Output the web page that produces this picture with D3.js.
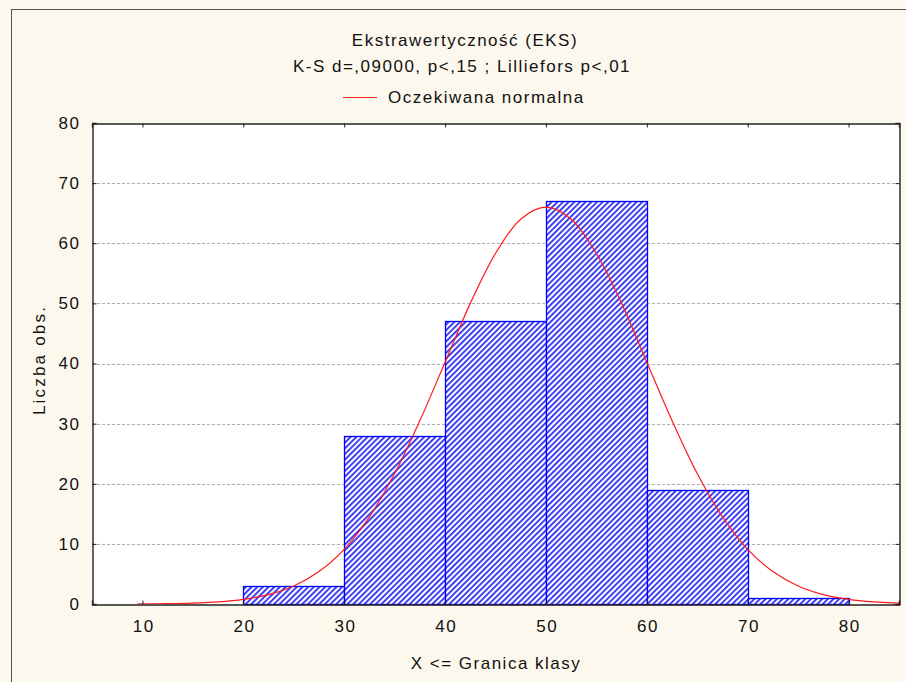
<!DOCTYPE html>
<html>
<head>
<meta charset="utf-8">
<script src="https://cdn.jsdelivr.net/npm/d3@7"></script>
<style>
  html, body { margin: 0; padding: 0; background: #fdf8ee; }
  svg { display: block; }
  text { font-family: "Liberation Sans", Arial, sans-serif; fill: #111; }
</style>
</head>
<body>
<script>
// Histogram class bounds (upper limits) and counts
const binStarts = [20, 30, 40, 50, 60, 70];
const binEnds   = [30, 40, 50, 60, 70, 80];
const counts    = [3, 28, 47, 67, 19, 1];

// Expected normal curve (x, expected count)
const curveX = [9.5, 12.5, 15, 17.5, 20, 22.5, 25, 27.5, 30, 32.5, 35, 37.5, 40, 42.5, 45, 47.5, 50,
                52.5, 55, 57.5, 60, 62.5, 65, 67.5, 70, 72.5, 75, 77.5, 80, 82.5, 85];
const curveY = [0.02, 0.06, 0.15, 0.35, 0.77, 1.56, 3.0, 5.4, 9.1, 14.5, 21.7, 30.5, 40.2, 50.0, 58.3, 64.0, 66.0,
                64.0, 58.3, 50.0, 40.2, 30.5, 21.7, 14.5, 9.1, 5.4, 3.0, 1.56, 0.77, 0.35, 0.15];

const xTicks = [10, 20, 30, 40, 50, 60, 70, 80];
const yTicks = [0, 10, 20, 30, 40, 50, 60, 70, 80];
const gridTicks = [10, 20, 30, 40, 50, 60, 70];

const titleText = "Ekstrawertyczność (EKS)";
const subtitleText = "K-S d=,09000, p<,15 ; Lilliefors p<,01";
const legendText = "Oczekiwana normalna";
const xLabel = "X <= Granica klasy";
const yLabel = "Liczba obs.";

const W = 906, H = 682;
const plot = { left: 92, right: 899, top: 123, bottom: 604 };
const FONT = 17, SPACING = 1.5;

const svg = d3.select("body").append("svg").attr("width", W).attr("height", H);

// page background and outer frame
svg.append("rect").attr("width", W).attr("height", H).attr("fill", "#fdf8ee");
svg.append("rect").attr("x", 11.5).attr("y", 9.5).attr("width", W + 20).attr("height", H + 20)
  .attr("fill", "none").attr("stroke", "#555").attr("stroke-width", 1);

// hatch fill for the bars
const defs = svg.append("defs");
const pat = defs.append("pattern").attr("id", "hatch")
  .attr("patternUnits", "userSpaceOnUse").attr("width", 4).attr("height", 4)
  .attr("patternTransform", "rotate(45)");
pat.append("rect").attr("width", 4).attr("height", 4).attr("fill", "#ffffff");
pat.append("rect").attr("x", 0).attr("width", 1.8).attr("height", 4).attr("fill", "#2d2df5");

defs.append("clipPath").attr("id", "plotClip").append("rect")
  .attr("x", plot.left).attr("y", plot.top)
  .attr("width", plot.right - plot.left).attr("height", plot.bottom - plot.top);

const x = d3.scaleLinear().domain([5, 85]).range([plot.left, plot.right]);
const y = d3.scaleLinear().domain([0, 80]).range([plot.bottom, plot.top]);

// plot area
svg.append("rect").attr("x", plot.left).attr("y", plot.top)
  .attr("width", plot.right - plot.left).attr("height", plot.bottom - plot.top)
  .attr("fill", "#ffffff");

// dotted grid lines
svg.append("g").selectAll("line").data(gridTicks).join("line")
  .attr("x1", plot.left).attr("x2", plot.right)
  .attr("y1", d => Math.round(y(d)) + 0.5).attr("y2", d => Math.round(y(d)) + 0.5)
  .attr("stroke", "#b0b0b0").attr("stroke-width", 1).attr("stroke-dasharray", "3,2");

// histogram bars
const bars = binStarts.map((s, i) => ({ s, e: binEnds[i], v: counts[i] }));
svg.append("g").selectAll("rect").data(bars).join("rect")
  .attr("x", d => Math.round(x(d.s)) + 0.5)
  .attr("y", d => Math.round(y(d.v)) + 0.5)
  .attr("width", d => Math.round(x(d.e)) - Math.round(x(d.s)))
  .attr("height", d => Math.round(y(0)) - Math.round(y(d.v)))
  .attr("fill", "url(#hatch)").attr("stroke", "#0000ff").attr("stroke-width", 1.3);

// expected normal curve
const line = d3.line().x(d => x(d[0])).y(d => y(d[1])).curve(d3.curveCatmullRom);
svg.append("path").datum(curveX.map((v, i) => [v, curveY[i]]))
  .attr("clip-path", "url(#plotClip)")
  .attr("d", line).attr("fill", "none").attr("stroke", "#ff1a1a").attr("stroke-width", 1.2);

// axes
const tickLen = 4;
const axisColor = "#222";
const gLeft = svg.append("g").attr("transform", `translate(${plot.left + 0.5},0)`)
  .call(d3.axisLeft(y).tickValues(yTicks).tickSize(-tickLen).tickPadding(12).tickFormat(d3.format("d")));
const gBottom = svg.append("g").attr("transform", `translate(0,${plot.bottom + 0.5})`)
  .call(d3.axisBottom(x).tickValues(xTicks).tickSize(-tickLen).tickPadding(15).tickFormat(d3.format("d")));
const gRight = svg.append("g").attr("transform", `translate(${plot.right + 0.5},0)`)
  .call(d3.axisRight(y).tickValues(yTicks).tickSize(-tickLen).tickFormat(""));
const gTop = svg.append("g").attr("transform", `translate(0,${plot.top + 0.5})`)
  .call(d3.axisTop(x).tickValues(xTicks).tickSize(-tickLen).tickFormat(""));

[gLeft, gBottom, gRight, gTop].forEach(g => {
  g.select(".domain").attr("stroke", axisColor).attr("stroke-width", 1.4);
  g.selectAll(".tick line").attr("stroke", axisColor);
  g.selectAll(".tick text").style("font-family", '"Liberation Sans", Arial, sans-serif')
    .style("font-size", FONT + "px").style("letter-spacing", SPACING + "px").attr("fill", "#111");
});
gBottom.selectAll(".tick text").attr("dy", "0.71em").attr("dx", SPACING / 2);

function label(sel) {
  return sel.style("font-size", FONT + "px").style("letter-spacing", SPACING + "px");
}

// titles
label(svg.append("text")).attr("x", 465).attr("y", 46).attr("text-anchor", "middle").text(titleText);
label(svg.append("text")).attr("x", 462).attr("y", 72).attr("text-anchor", "middle").text(subtitleText);

// legend
svg.append("line").attr("x1", 343).attr("x2", 377).attr("y1", 97.5).attr("y2", 97.5)
  .attr("stroke", "#ff1a1a").attr("stroke-width", 1.2);
label(svg.append("text")).attr("x", 388).attr("y", 103).text(legendText);

// axis titles
label(svg.append("text")).attr("x", 496).attr("y", 669).attr("text-anchor", "middle").text(xLabel);
label(svg.append("text")).attr("transform", "translate(45,360) rotate(-90)").attr("text-anchor", "middle")
  .style("letter-spacing", "2.2px").text(yLabel);
</script>
</body>
</html>
